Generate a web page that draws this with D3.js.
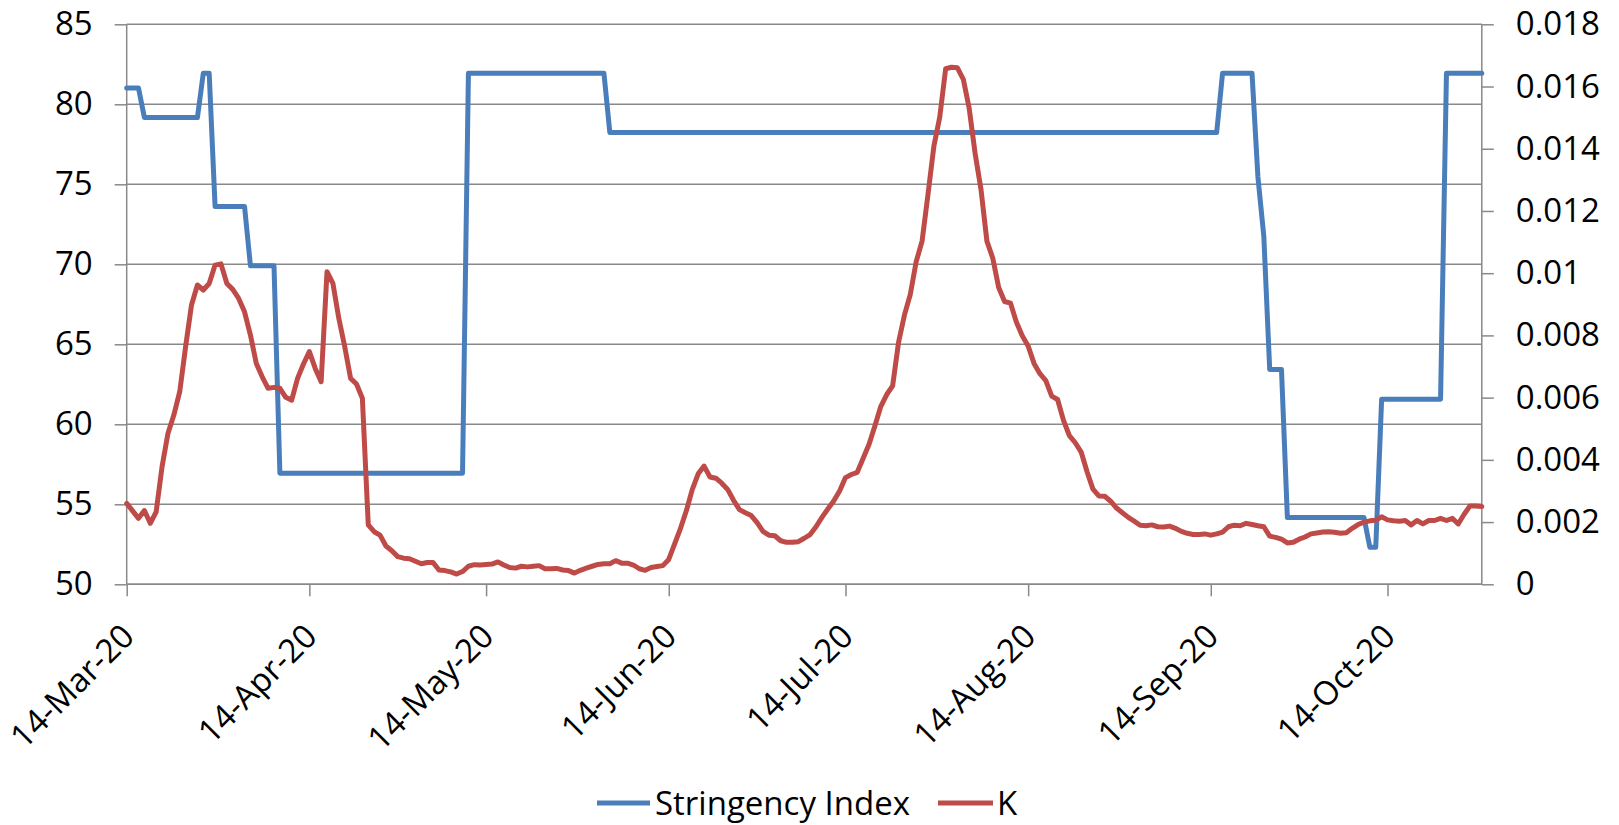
<!DOCTYPE html>
<html><head><meta charset="utf-8">
<script src="https://cdn.jsdelivr.net/npm/d3@7"></script>
<style>
body{margin:0;background:#fff;}
text{font-family:"Open Sans",sans-serif;fill:#000;}
</style></head>
<body><svg id="chart" width="1619" height="825"></svg>
<script>
// ---- data ----
const startDate = "2020-03-14";
const endDate = "2020-10-30";
const seriesNames = ["Stringency Index", "K"];
const stringency = [
 81.02,81.02,81.02,
 79.17,79.17,79.17,79.17,79.17,79.17,79.17,79.17,79.17,79.17,
 81.94,81.94,
 73.61,73.61,73.61,73.61,73.61,73.61,
 69.91,69.91,69.91,69.91,69.91,
 56.94,56.94,56.94,56.94,56.94,56.94,56.94,56.94,56.94,56.94,56.94,56.94,56.94,56.94,56.94,56.94,
 56.94,56.94,56.94,56.94,56.94,56.94,56.94,56.94,56.94,56.94,56.94,56.94,56.94,56.94,56.94,56.94,
 81.94,81.94,81.94,81.94,81.94,81.94,81.94,81.94,81.94,81.94,81.94,81.94,
 81.94,81.94,81.94,81.94,81.94,81.94,81.94,81.94,81.94,81.94,81.94,81.94,
 78.24,78.24,78.24,78.24,78.24,78.24,78.24,78.24,78.24,78.24,78.24,78.24,78.24,78.24,78.24,78.24,78.24,78.24,78.24,78.24,
 78.24,78.24,78.24,78.24,78.24,78.24,78.24,78.24,78.24,78.24,78.24,78.24,78.24,78.24,78.24,78.24,78.24,78.24,78.24,78.24,
 78.24,78.24,78.24,78.24,78.24,78.24,78.24,78.24,78.24,78.24,78.24,78.24,78.24,78.24,78.24,78.24,78.24,78.24,78.24,78.24,
 78.24,78.24,78.24,78.24,78.24,78.24,78.24,78.24,78.24,78.24,78.24,78.24,78.24,78.24,78.24,78.24,78.24,78.24,78.24,78.24,
 78.24,78.24,78.24,78.24,78.24,78.24,78.24,78.24,78.24,78.24,78.24,78.24,78.24,78.24,78.24,78.24,78.24,78.24,78.24,78.24,
 78.24,78.24,78.24,78.24,
 81.94,81.94,81.94,81.94,81.94,81.94,
 75.46,71.76,
 63.43,63.43,63.43,
 54.17,54.17,54.17,54.17,54.17,54.17,54.17,54.17,54.17,54.17,54.17,54.17,54.17,54.17,
 52.31,52.31,
 61.57,61.57,61.57,61.57,61.57,61.57,61.57,61.57,61.57,61.57,61.57,
 81.94,81.94,81.94,81.94,81.94,81.94,81.94
];
const kValues = [
 0.00260,0.00236,0.00212,0.00237,0.00196,0.00233,0.00378,0.00485,0.00544,0.00619,
 0.00764,0.00898,0.00962,0.00946,0.00967,0.01026,0.01030,0.00967,0.00948,0.00919,
 0.00876,0.00801,0.00710,0.00667,0.00630,0.00633,0.00630,0.00601,0.00592,0.00662,
 0.00708,0.00748,0.00694,0.00651,0.01005,0.00967,0.00855,0.00764,0.00662,0.00644,
 0.00598,0.00191,0.00169,0.00158,0.00123,0.00108,0.00089,0.00084,0.00082,0.00074,
 0.00066,0.00070,0.00070,0.00046,0.00044,0.00040,0.00033,0.00041,0.00058,0.00063,
 0.00062,0.00064,0.00065,0.00072,0.00062,0.00054,0.00052,0.00058,0.00056,0.00058,
 0.00060,0.00050,0.00050,0.00051,0.00046,0.00044,0.00036,0.00045,0.00052,0.00058,
 0.00064,0.00066,0.00066,0.00076,0.00068,0.00068,0.00062,0.00050,0.00045,0.00054,
 0.00057,0.00060,0.00080,0.00130,0.00180,0.00237,0.00305,0.00355,0.00380,0.00345,
 0.00341,0.00325,0.00305,0.00270,0.00240,0.00230,0.00221,0.00198,0.00170,0.00158,
 0.00156,0.00140,0.00135,0.00135,0.00137,0.00148,0.00160,0.00185,0.00215,0.00242,
 0.00268,0.00300,0.00343,0.00353,0.00360,0.00405,0.00450,0.00510,0.00572,0.00610,
 0.00638,0.00777,0.00865,0.00932,0.01037,0.01103,0.01253,0.01408,0.01502,0.01657,
 0.01662,0.01660,0.01623,0.01529,0.01385,0.01269,0.01103,0.01048,0.00954,0.00909,
 0.00904,0.00843,0.00799,0.00766,0.00710,0.00677,0.00655,0.00605,0.00594,0.00527,
 0.00478,0.00455,0.00425,0.00362,0.00306,0.00284,0.00283,0.00267,0.00245,0.00230,
 0.00215,0.00203,0.00190,0.00188,0.00191,0.00185,0.00184,0.00187,0.00180,0.00170,
 0.00164,0.00160,0.00160,0.00162,0.00158,0.00162,0.00168,0.00185,0.00190,0.00188,
 0.00196,0.00192,0.00188,0.00185,0.00155,0.00151,0.00145,0.00133,0.00135,0.00145,
 0.00152,0.00162,0.00165,0.00168,0.00169,0.00167,0.00164,0.00166,0.00180,0.00192,
 0.00200,0.00204,0.00206,0.00217,0.00207,0.00204,0.00203,0.00205,0.00191,0.00205,
 0.00194,0.00205,0.00205,0.00212,0.00205,0.00212,0.00194,0.00225,0.00252,0.00252,0.00250
];
const leftTicks = [50,55,60,65,70,75,80,85];
const rightTicks = [0,0.002,0.004,0.006,0.008,0.01,0.012,0.014,0.016,0.018];
const xTickDates = ["2020-03-14","2020-04-14","2020-05-14","2020-06-14","2020-07-14","2020-08-14","2020-09-14","2020-10-14"];

// ---- setup ----
const parse = d3.utcParse("%Y-%m-%d");
const d0 = parse(startDate), d1 = parse(endDate);
const dates = d3.utcDays(d0, d3.utcDay.offset(d1, 1));
const plot = {left:126.7, right:1481.8, top:24.3, bottom:584.3};
const gridColor = "#898989";
const blue = "#4A7EBB", red = "#BE4B48";
const FS = 33;

const svg = d3.select("#chart");
const x = d3.scaleUtc().domain([d0, d1]).range([plot.left, plot.right]);
const yL = d3.scaleLinear().domain([50, 85]).range([plot.bottom, plot.top]);
const yR = d3.scaleLinear().domain([0, 0.018]).range([plot.bottom, plot.top]);

// gridlines
svg.append("g").selectAll("line").data(leftTicks).join("line")
  .attr("x1", plot.left).attr("x2", plot.right)
  .attr("y1", d => yL(d)).attr("y2", d => yL(d))
  .attr("stroke", gridColor).attr("stroke-width", 1.5);

// left axis
const gL = svg.append("g").attr("transform", `translate(${plot.left},0)`)
  .call(d3.axisLeft(yL).tickValues(leftTicks).tickSize(12).tickPadding(22).tickFormat(d3.format("d")));
// right axis
const gR = svg.append("g").attr("transform", `translate(${plot.right},0)`)
  .call(d3.axisRight(yR).tickValues(rightTicks).tickSize(12).tickPadding(22)
    .tickFormat(d => d === 0 ? "0" : String(+d.toFixed(3))));
// bottom axis
const gB = svg.append("g").attr("transform", `translate(0,${plot.bottom})`)
  .call(d3.axisBottom(x).tickValues(xTickDates.map(parse)).tickSize(12).tickFormat(d3.utcFormat("%d-%b-%y")));

[gL, gR, gB].forEach(g => {
  g.select(".domain").attr("stroke", gridColor).attr("stroke-width", 1.5);
  g.selectAll(".tick line").attr("stroke", gridColor).attr("stroke-width", 1.5);
  g.selectAll("text").style("font-size", FS + "px").style("font-family", '"Open Sans", sans-serif').attr("fill", "#000");
});
gB.select(".domain").attr("d", `M${plot.left},0H${plot.right}`);
gL.select(".domain").attr("d", `M0,${plot.top}V${plot.bottom}`);
gR.select(".domain").attr("d", `M0,${plot.top}V${plot.bottom}`);
gB.selectAll(".tick text")
  .attr("text-anchor", "end")
  .attr("y", 0).attr("dy", 0)
  .attr("transform", "translate(9,54) rotate(-45)");

// lines
const lineL = d3.line().x((d, i) => x(dates[i])).y(d => yL(d));
const lineR = d3.line().x((d, i) => x(dates[i])).y(d => yR(d));
svg.append("path").datum(stringency).attr("d", lineL)
  .attr("fill", "none").attr("stroke", blue).attr("stroke-width", 5)
  .attr("stroke-linejoin", "round").attr("stroke-linecap", "round");
svg.append("path").datum(kValues).attr("d", lineR)
  .attr("fill", "none").attr("stroke", red).attr("stroke-width", 5)
  .attr("stroke-linejoin", "round").attr("stroke-linecap", "round");

// legend
const legendItems = [
  {name: seriesNames[0], color: blue, x1: 597, x2: 650, tx: 655},
  {name: seriesNames[1], color: red, x1: 938, x2: 993, tx: 997}
];
const lg = svg.append("g");
legendItems.forEach(it => {
  lg.append("line").attr("x1", it.x1).attr("x2", it.x2).attr("y1", 803).attr("y2", 803)
    .attr("stroke", it.color).attr("stroke-width", 5);
  lg.append("text").attr("x", it.tx).attr("y", 803).attr("dy", "0.35em")
    .style("font-size", FS + "px").text(it.name);
});
</script>
</body></html>
